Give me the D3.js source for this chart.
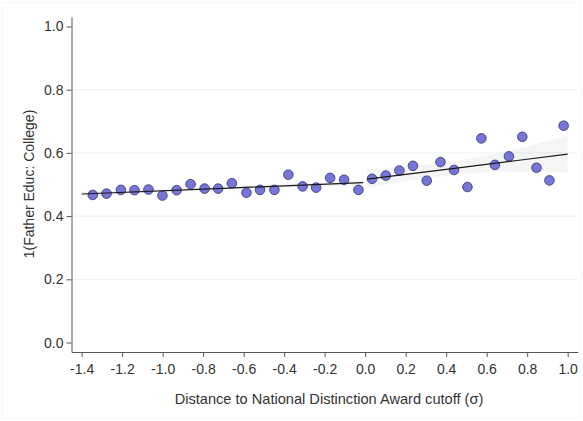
<!DOCTYPE html>
<html>
<head>
<meta charset="utf-8">
<script src="https://cdn.jsdelivr.net/npm/d3@7"></script>
<style>
  body { margin: 0; background: #fff; }
  svg { display: block; font-family: "Liberation Sans", Arial, sans-serif; }
</style>
</head>
<body>
<div id="chart"></div>
<script>
// Binned means, left of cutoff
const leftX = [-1.345, -1.277, -1.206, -1.139, -1.070, -1.001, -0.931, -0.862, -0.793, -0.726,
               -0.658, -0.586, -0.519, -0.448, -0.379, -0.309, -0.242, -0.173, -0.104, -0.033];
const leftY = [0.467, 0.471, 0.483, 0.482, 0.484, 0.465, 0.482, 0.501, 0.487, 0.487,
               0.504, 0.474, 0.483, 0.483, 0.531, 0.494, 0.490, 0.521, 0.515, 0.483];

// Binned means, right of cutoff
const rightX = [0.034, 0.102, 0.169, 0.236, 0.304, 0.372, 0.439, 0.505, 0.574, 0.641,
                0.710, 0.776, 0.846, 0.910, 0.980];
const rightY = [0.518, 0.528, 0.544, 0.559, 0.512, 0.571, 0.546, 0.492, 0.646, 0.562,
                0.589, 0.651, 0.553, 0.513, 0.686];

// Linear fits and 95% bands
const leftFitX  = [-1.40, -0.70, -0.01];
const leftFitY  = [0.470, 0.488, 0.506];
const leftFitLo = [0.463, 0.484, 0.498];
const leftFitHi = [0.477, 0.492, 0.514];

const rightFitX  = [0.01, 0.25, 0.50, 0.75, 1.00];
const rightFitY  = [0.517, 0.536, 0.556, 0.576, 0.596];
const rightFitLo = [0.488, 0.515, 0.533, 0.541, 0.537];
const rightFitHi = [0.548, 0.559, 0.580, 0.612, 0.655];

const xTicks = [-1.4, -1.2, -1.0, -0.8, -0.6, -0.4, -0.2, 0.0, 0.2, 0.4, 0.6, 0.8, 1.0];
const yTicks = [0.0, 0.2, 0.4, 0.6, 0.8, 1.0];
const yGrid = [0.2, 0.4, 0.6, 0.8];

const width = 583, height = 421;
const svg = d3.select("#chart").append("svg")
  .attr("width", width)
  .attr("height", height);

const x = d3.scaleLinear().domain([-1.45, 1.05]).range([71.5, 577.8]);
const y = d3.scaleLinear().domain([-0.03, 1.03]).range([352, 17]);

const fmt = d => d3.format(".1f")(d).replace("\u2212", "-");

// faint outer frame
svg.append("rect")
  .attr("x", 2.5).attr("y", 2.5)
  .attr("width", width - 5).attr("height", height - 5)
  .attr("fill", "none")
  .attr("stroke", "#f7f7f7");

// gridlines
svg.append("g").selectAll("line")
  .data(yGrid)
  .join("line")
  .attr("x1", x(-1.45)).attr("x2", x(1.05))
  .attr("y1", d => y(d)).attr("y2", d => y(d))
  .attr("stroke", "#eaf2f3")
  .attr("stroke-width", 1);

// confidence bands
const band = d3.area()
  .x(d => x(d.x))
  .y0(d => y(d.lo))
  .y1(d => y(d.hi))
  .curve(d3.curveMonotoneX);

const fitLine = d3.line()
  .x(d => x(d.x))
  .y(d => y(d.y));

const leftFit = leftFitX.map((v, i) => ({ x: v, y: leftFitY[i], lo: leftFitLo[i], hi: leftFitHi[i] }));
const rightFit = rightFitX.map((v, i) => ({ x: v, y: rightFitY[i], lo: rightFitLo[i], hi: rightFitHi[i] }));

[leftFit, rightFit].forEach(f => {
  svg.append("path")
    .datum(f)
    .attr("d", band)
    .attr("fill", "#000")
    .attr("fill-opacity", 0.04);
});

// points
const pts = leftX.map((v, i) => ({ x: v, y: leftY[i] }))
  .concat(rightX.map((v, i) => ({ x: v, y: rightY[i] })));

svg.append("g").selectAll("circle")
  .data(pts)
  .join("circle")
  .attr("cx", d => x(d.x))
  .attr("cy", d => y(d.y))
  .attr("r", 4.8)
  .attr("fill", "#7676d9")
  .attr("stroke", "#3b3b7a")
  .attr("stroke-width", 0.9);

// fitted lines
[leftFit, rightFit].forEach(f => {
  svg.append("path")
    .datum(f)
    .attr("d", fitLine)
    .attr("fill", "none")
    .attr("stroke", "#1a1a1a")
    .attr("stroke-width", 1.2);
});

// axes
const xAxis = svg.append("g")
  .attr("transform", "translate(0,352)")
  .call(d3.axisBottom(x).tickValues(xTicks).tickFormat(fmt).tickSize(5).tickSizeOuter(0).tickPadding(7));

const yAxis = svg.append("g")
  .attr("transform", "translate(71.5,0)")
  .call(d3.axisLeft(y).tickValues(yTicks).tickFormat(fmt).tickSize(5).tickSizeOuter(0).tickPadding(3));

[xAxis, yAxis].forEach(a => {
  a.select(".domain").attr("stroke", "#555");
  a.selectAll(".tick line").attr("stroke", "#555");
  a.selectAll(".tick text")
    .attr("fill", "#333")
    .style("font-size", "14px")
    .style("font-family", "'Liberation Sans', Arial, sans-serif");
});

// axis titles
svg.append("text")
  .attr("x", 329)
  .attr("y", 404)
  .attr("text-anchor", "middle")
  .attr("fill", "#333")
  .style("font-size", "14.6px")
  .text("Distance to National Distinction Award cutoff (\u03c3)");

svg.append("text")
  .attr("transform", "translate(34,184) rotate(-90)")
  .attr("text-anchor", "middle")
  .attr("fill", "#333")
  .style("font-size", "14px")
  .text("1(Father Educ: College)");
</script>
</body>
</html>
